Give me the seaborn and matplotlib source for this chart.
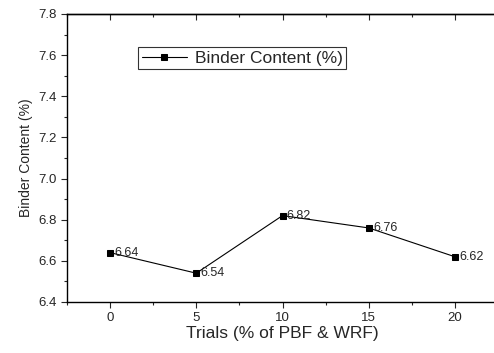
import numpy as np
import pandas as pd
import seaborn as sns
from matplotlib import pyplot as plt
from matplotlib.ticker import MultipleLocator

trials = [0, 5, 10, 15, 20]
binder = [6.64, 6.54, 6.82, 6.76, 6.62]
labels = ["6.64", "6.54", "6.82", "6.76", "6.62"]

sns.set_style("ticks")
plt.rcParams['font.family'] = ['Liberation Sans', 'DejaVu Sans']

df = pd.DataFrame({"trial": trials, "binder": binder})

fig = plt.figure(figsize=(4.94, 3.53), dpi=100)
ax = fig.add_axes([67 / 494, 1 - 302 / 353, 431 / 494, 288 / 353])

sns.lineplot(data=df, x="trial", y="binder", ax=ax, color="black", lw=0.8,
             marker="s", markersize=5, markeredgecolor="black",
             label="Binder Content (%)")

for x, y, t in zip(trials, binder, labels):
    ax.text(x + 0.25, y, t, fontsize=9, va="center", ha="left")

ax.set_xlim(-2.5, 22.5)
ax.set_ylim(6.4, 7.8)
ax.xaxis.set_major_locator(MultipleLocator(5))
ax.xaxis.set_minor_locator(MultipleLocator(2.5))
ax.yaxis.set_major_locator(MultipleLocator(0.2))
ax.yaxis.set_minor_locator(MultipleLocator(0.1))
ax.yaxis.set_major_formatter(plt.FormatStrFormatter('%.1f'))

for s in ax.spines.values():
    s.set_linewidth(1.0)
    s.set_color("black")
ax.tick_params(which="major", direction="out", length=4, width=0.8, labelsize=9.5,
               top=False, right=False)
ax.tick_params(which="minor", direction="out", length=2, width=0.8, top=False, right=False)

# inward ticks along the top edge
top = ax.secondary_xaxis("top")
top.xaxis.set_major_locator(MultipleLocator(5))
top.xaxis.set_minor_locator(MultipleLocator(2.5))
top.tick_params(which="major", direction="in", length=4, width=0.8, labeltop=False)
top.tick_params(which="minor", direction="in", length=2, width=0.8)
top.spines["top"].set_linewidth(1.0)

ax.set_xlabel("Trials (% of PBF & WRF)", fontsize=12.5, labelpad=1)
ax.set_ylabel("Binder Content (%)", fontsize=10)

leg = ax.legend(loc="upper left", bbox_to_anchor=(0.165, 0.885), fontsize=12.5,
                frameon=True, fancybox=False, edgecolor="black", borderpad=0.2,
                handlelength=2.6, handletextpad=0.45, borderaxespad=0)
leg.get_frame().set_linewidth(0.8)

fig.savefig("out.png", dpi=100)
